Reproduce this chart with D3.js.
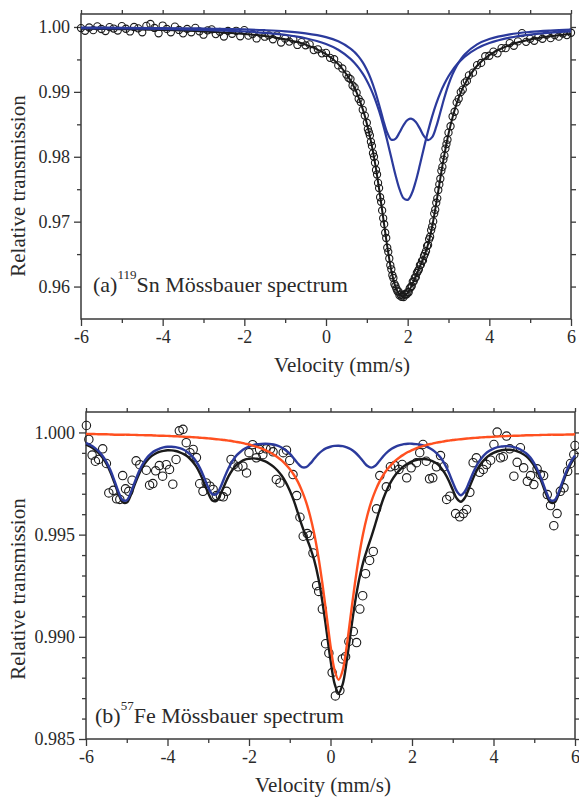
<!DOCTYPE html>
<html>
<head>
<meta charset="utf-8">
<script src="https://cdn.jsdelivr.net/npm/d3@7"></script>
<style>
body { margin: 0; background: #fff; }
svg text { font-family: "Liberation Serif", "Times New Roman", serif; }
</style>
</head>
<body>
<script>
// (a) 119Sn spectrum : measured points [velocity, transmission]
var snData = [[-6.0,.99983],[-5.9,.99942],[-5.8,.99992],[-5.7,.99951],[-5.6,1.00010],[-5.5,.99969],[-5.4,.99938],[-5.3,.99997],[-5.2,.99976],[-5.1,.99945],[-5.0,1.00014],[-4.9,.99973],[-4.8,.99931],[-4.7,1.00000],[-4.6,.99979],[-4.5,.99918],[-4.4,1.00017],[-4.3,1.00046],[-4.2,.99985],[-4.1,.99903],[-4.0,1.00022],[-3.9,.99970],[-3.8,.99918],[-3.7,1.00006],[-3.6,.99954],[-3.5,.99902],[-3.4,.99970],[-3.3,.99918],[-3.2,.99986],[-3.1,.99933],[-3.0,.99881],[-2.9,.99948],[-2.8,.99964],[-2.7,.99890],[-2.6,.99926],[-2.5,.99853],[-2.4,.99939],[-2.3,.99895],[-2.2,.99941],[-2.1,.99856],[-2.0,.99952],[-1.9,.99866],[-1.8,.99890],[-1.7,.99823],[-1.6,.99897],[-1.5,.99850],[-1.4,.99871],[-1.3,.99811],[-1.2,.99871],[-1.1,.99761],[-1.0,.99820],[-0.9,.99775],[-0.8,.99809],[-0.7,.99723],[-0.6,.99766],[-0.5,.99718],[-0.4,.99732],[-0.3,.99644],[-0.2,.99656],[-0.1,.99594],[0.0,.99601],[0.1,.99524],[0.2,.99503],[0.3,.99408],[0.4,.99360],[0.5,.99266],
[0.55,.99217],[0.60,.99197],[0.65,.99098],[0.70,.99069],[0.75,.98986],[0.80,.98893],[0.85,.98844],[0.90,.98724],[0.95,.98634],
[1.000,.98524],[1.025,.98426],[1.050,.98378],[1.075,.98329],[1.100,.98231],[1.125,.98167],[1.150,.98054],[1.175,.98000],[1.200,.97906],[1.225,.97796],[1.250,.97727],[1.275,.97597],[1.300,.97517],[1.325,.97376],[1.350,.97305],[1.375,.97173],[1.400,.97052],[1.425,.96961],[1.450,.96830],[1.475,.96749],[1.500,.96598],[1.525,.96535],[1.550,.96432],[1.575,.96329],[1.600,.96266],[1.625,.96174],[1.650,.96132],[1.675,.96040],[1.700,.96008],[1.725,.95967],[1.750,.95926],[1.775,.95925],[1.800,.95864],[1.825,.95878],[1.850,.95842],[1.875,.95865],[1.900,.95839],[1.925,.95883],[1.950,.95877],[1.975,.95880],[2.000,.95914],[2.025,.95913],[2.050,.95971],[2.075,.95990],[2.100,.96008],[2.125,.96074],[2.150,.96080],[2.175,.96136],[2.200,.96142],[2.225,.96209],[2.250,.96236],[2.275,.96263],[2.300,.96330],[2.325,.96338],[2.350,.96395],[2.375,.96403],[2.400,.96470],[2.425,.96508],[2.450,.96546],[2.475,.96623],[2.500,.96641],[2.525,.96730],[2.550,.96768],[2.575,.96867],[2.600,.96925],[2.625,.97004],[2.650,.97124],[2.675,.97183],[2.700,.97292],[2.725,.97359],[2.750,.97487],[2.775,.97574],[2.800,.97661],[2.825,.97783],[2.850,.97844],[2.875,.97956],[2.900,.98017],[2.925,.98126],[2.950,.98195],[2.975,.98263],[3.000,.98372],
[3.05,.98471],[3.10,.98620],[3.15,.98694],[3.20,.98838],[3.25,.98893],[3.30,.98997],[3.35,.99035],[3.40,.99143],[3.45,.99169],
[3.5,.99254],[3.6,.99296],[3.7,.99412],[3.8,.99446],[3.9,.99550],[4.0,.99557],[4.1,.99621],[4.2,.99594],[4.3,.99674],[4.4,.99674],[4.5,.99752],[4.6,.99711],[4.7,.99778],[4.8,.99905],[4.9,.99771],[5.0,.99817],[5.1,.99788],[5.2,.99848],[5.3,.99818],[5.4,.99878],[5.5,.99828],[5.6,.99875],[5.7,.99851],[5.8,.99898],[5.9,.99875],[6.0,.99911]];

// (a) fitted curves
var snFitV = [-6,-5,-4,-3,-2,-1.5,-1,-0.5,0,0.3,0.6,0.7,0.8,0.9,1.0,1.1,1.2,1.3,1.4,1.5,1.6,1.7,1.8,1.9,2.0,2.1,2.2,2.3,2.4,2.5,2.6,2.7,2.8,2.9,3.0,3.1,3.2,3.3,3.4,3.7,4.0,4.5,5.0,5.5,6.0];
var snFit = [.99973,.99964,.99952,.99931,.99892,.99860,.99810,.99728,.99581,.99428,.99177,.99059,.98913,.98734,.98514,.98241,.97906,.97507,.97062,.96618,.96246,.95998,.95874,.95849,.95904,.96018,.96162,.96310,.96460,.96651,.96925,.97282,.97671,.98037,.98352,.98610,.98818,.98987,.99123,.99402,.99567,.99722,.99807,.99858,.99891];
var snSingle = [.99982,.99977,.99969,.99955,.99930,.99910,.99878,.99827,.99738,.99649,.99509,.99446,.99370,.99280,.99173,.99043,.98889,.98705,.98491,.98247,.97983,.97723,.97501,.97361,.97336,.97433,.97627,.97877,.98143,.98396,.98623,.98819,.98985,.99124,.99240,.99336,.99417,.99485,.99543,.99670,.99752,.99835,.99883,.99913,.99932];
var snDoublet = [.99990,.99988,.99983,.99976,.99962,.99950,.99932,.99901,.99843,.99779,.99668,.99613,.99543,.99454,.99341,.99197,.99017,.98802,.98571,.98371,.98263,.98275,.98373,.98488,.98568,.98585,.98535,.98433,.98317,.98255,.98302,.98463,.98686,.98913,.99112,.99274,.99401,.99501,.99580,.99732,.99815,.99887,.99924,.99945,.99959];

// (b) 57Fe spectrum : measured points
var feData = [[-5.99,1.00034],[-5.93,.99966],[-5.85,.99889],[-5.77,.99859],[-5.69,.99868],[-5.59,.99920],[-5.50,.99848],[-5.44,.99704],[-5.33,.99717],[-5.25,.99675],[-5.17,.99672],[-5.10,.99789],[-5.03,.99724],[-4.95,.99712],[-4.87,.99766],[-4.77,.99861],[-4.68,.99842],[-4.52,.99815],[-4.44,.99742],[-4.36,.99750],[-4.29,.99812],[-4.20,.99838],[-4.12,.99786],[-4.03,.99842],[-3.95,.99819],[-3.87,.99747],[-3.79,.99868],[-3.71,1.00008],[-3.62,1.00015],[-3.54,.99950],[-3.45,.99901],[-3.37,.99917],[-3.29,.99877],[-3.21,.99749],[-3.13,.99712],[-3.05,.99753],[-2.96,.99737],[-2.88,.99721],[-2.80,.99691],[-2.70,.99688],[-2.63,.99685],[-2.55,.99712],[-2.44,.99868],[-2.37,.99843],[-2.27,.99832],[-2.15,.99835],[-2.06,.99802],[-2.00,.99901],[-1.91,.99940],[-1.82,.99876],[-1.74,.99917],[-1.66,.99891],[-1.58,.99920],[-1.47,.99920],[-1.41,.99905],[-1.33,.99770],[-1.24,.99753],[-1.16,.99901],[-1.08,.99913],[-1.00,.99863],[-0.92,.99794],[-0.83,.99691],[-0.75,.99585],[-0.67,.99492],[-0.57,.99505],[-0.51,.99495],[-0.43,.99410],[-0.34,.99250],[-0.29,.99222],[-0.20,.99136],[-0.12,.98966],[-0.04,.98920],[0.04,.98825],[0.12,.98711],[0.23,.98737],[0.29,.98892],[0.37,.98903],[0.45,.98977],[0.56,.99026],[0.64,.98972],[0.72,.99136],[0.79,.99201],[0.86,.99309],[0.96,.99374],[1.05,.99418],[1.13,.99626],[1.21,.99789],[1.37,.99734],[1.47,.99832],[1.58,.99838],[1.68,.99819],[1.76,.99843],[1.87,.99778],[1.98,.99827],[2.11,.99852],[2.19,.99901],[2.27,.99941],[2.35,.99859],[2.43,.99773],[2.51,.99778],[2.60,.99832],[2.70,.99887],[2.78,.99832],[2.85,.99672],[2.93,.99688],[3.07,.99603],[3.17,.99587],[3.26,.99603],[3.34,.99623],[3.42,.99707],[3.50,.99852],[3.58,.99876],[3.66,.99805],[3.75,.99819],[3.83,.99843],[3.93,.99864],[4.01,.99941],[4.09,1.00002],[4.17,.99876],[4.24,.99881],[4.32,.99982],[4.40,.99920],[4.50,.99786],[4.58,.99854],[4.66,.99925],[4.74,.99827],[4.83,.99761],[4.91,.99789],[4.99,.99745],[5.07,.99822],[5.15,.99794],[5.23,.99789],[5.32,.99696],[5.40,.99642],[5.48,.99544],[5.56,.99603],[5.64,.99712],[5.73,.99729],[5.82,.99810],[5.89,.99848],[5.97,.99892],[6.00,.99936]];

// (b) fitted curves, all on the same velocity grid
var feV = [-6.0,-5.9,-5.8,-5.7,-5.6,-5.5,-5.4,-5.3,-5.2,-5.1,-5.0,-4.9,-4.8,-4.7,-4.6,-4.5,-4.4,-4.3,-4.2,-4.1,-4.0,-3.9,-3.8,-3.7,-3.6,-3.5,-3.4,-3.3,-3.2,-3.1,-3.0,-2.9,-2.8,-2.7,-2.6,-2.5,-2.4,-2.3,-2.2,-2.1,-2.0,-1.9,-1.8,-1.7,-1.6,-1.5,-1.4,-1.3,-1.2,-1.1,-1.0,-0.9,-0.8,-0.7,-0.6,-0.5,-0.4,-0.3,-0.2,-0.1,0.0,0.1,0.2,0.3,0.4,0.5,0.6,0.7,0.8,0.9,1.0,1.1,1.2,1.3,1.4,1.5,1.6,1.7,1.8,1.9,2.0,2.1,2.2,2.3,2.4,2.5,2.6,2.7,2.8,2.9,3.0,3.1,3.2,3.3,3.4,3.5,3.6,3.7,3.8,3.9,4.0,4.1,4.2,4.3,4.4,4.5,4.6,4.7,4.8,4.9,5.0,5.1,5.2,5.3,5.4,5.5,5.6,5.7,5.8,5.9,6.0];
var feFit = [.99941,.99931,.99918,.99901,.99878,.99847,.99805,.99753,.99698,.99658,.99657,.99694,.99747,.99796,.99835,.99863,.99883,.99896,.99905,.99910,.99913,.99912,.99909,.99903,.99894,.99881,.99861,.99835,.99798,.99752,.99703,.99667,.99665,.99698,.99743,.99786,.99819,.99842,.99857,.99867,.99871,.99873,.99871,.99866,.99858,.99847,.99833,.99814,.99789,.99757,.99716,.99666,.99606,.99544,.99490,.99438,.99375,.99289,.99173,.99033,.98887,.98771,.98725,.98769,.98884,.99028,.99165,.99278,.99363,.99428,.99488,.99552,.99618,.99678,.99726,.99764,.99794,.99817,.99835,.99848,.99858,.99865,.99869,.99870,.99867,.99860,.99849,.99830,.99802,.99765,.99719,.99677,.99661,.99681,.99727,.99776,.99818,.99849,.99872,.99889,.99900,.99908,.99913,.99915,.99915,.99912,.99906,.99897,.99884,.99864,.99836,.99797,.99747,.99694,.99657,.99658,.99698,.99753,.99805,.99847,.99878];
var feSextet = [.99949,.99939,.99927,.99910,.99887,.99856,.99815,.99763,.99708,.99669,.99668,.99706,.99759,.99809,.99848,.99877,.99897,.99911,.99920,.99927,.99930,.99930,.99928,.99923,.99915,.99902,.99884,.99859,.99824,.99779,.99731,.99698,.99698,.99732,.99781,.99826,.99862,.99889,.99907,.99921,.99931,.99938,.99942,.99944,.99945,.99944,.99941,.99935,.99926,.99913,.99896,.99873,.99848,.99830,.99830,.99847,.99871,.99894,.99911,.99923,.99930,.99934,.99935,.99933,.99927,.99918,.99903,.99883,.99859,.99837,.99828,.99837,.99860,.99885,.99905,.99920,.99931,.99938,.99943,.99945,.99945,.99943,.99940,.99935,.99927,.99915,.99899,.99877,.99846,.99805,.99756,.99712,.99693,.99712,.99755,.99803,.99843,.99873,.99895,.99910,.99921,.99928,.99931,.99933,.99932,.99928,.99922,.99912,.99898,.99878,.99849,.99809,.99759,.99706,.99668,.99669,.99708,.99763,.99815,.99856,.99887];
var feSinglet = [.99992,.99992,.99992,.99991,.99991,.99991,.99990,.99989,.99989,.99989,.99989,.99988,.99988,.99987,.99987,.99986,.99986,.99985,.99984,.99984,.99983,.99982,.99981,.99980,.99979,.99978,.99977,.99976,.99974,.99973,.99971,.99969,.99967,.99965,.99963,.99960,.99957,.99953,.99950,.99945,.99941,.99935,.99929,.99922,.99913,.99904,.99892,.99879,.99863,.99844,.99821,.99793,.99758,.99714,.99660,.99591,.99504,.99395,.99262,.99111,.98957,.98837,.98790,.98837,.98957,.99111,.99262,.99395,.99504,.99591,.99660,.99714,.99758,.99793,.99821,.99844,.99863,.99879,.99892,.99904,.99913,.99922,.99929,.99935,.99941,.99945,.99950,.99953,.99957,.99960,.99963,.99965,.99967,.99969,.99971,.99973,.99974,.99976,.99977,.99978,.99979,.99980,.99981,.99982,.99983,.99984,.99984,.99985,.99986,.99986,.99987,.99987,.99988,.99988,.99989,.99989,.99989,.99989,.99990,.99990,.99991];

// ticks
var xTicks = [-6,-4,-2,0,2,4,6];
var xMinor = [-5,-3,-1,1,3,5];
var snYTicks = [0.96,0.97,0.98,0.99,1.00];
var snYMinor = [0.965,0.975,0.985,0.995];
var feYTicks = [0.985,0.990,0.995,1.000];
var feYMinor = [0.986,0.987,0.988,0.989,0.991,0.992,0.993,0.994,0.996,0.997,0.998,0.999];

var serif = "Liberation Serif, Times New Roman, serif";
var axisCol = "#3a3a3a";
var blue = "#2b3a9c", orange = "#ff5020", black = "#1a1a1a";

var svg = d3.select("body").append("svg")
    .attr("width", 579)
    .attr("height", 797);

function addAxis(axis, tx, ty) {
    var g = svg.append("g")
        .attr("transform", "translate(" + tx + "," + ty + ")")
        .call(axis)
        .attr("font-family", null);
    g.select(".domain").remove();
    g.selectAll(".tick line").attr("stroke", axisCol).attr("stroke-width", 1.3);
    g.selectAll(".tick text")
        .style("font-family", serif)
        .attr("font-size", 18)
        .attr("fill", "#2a2a2a");
    return g;
}

function panel(p) {
    var x = d3.scaleLinear().domain([-6, 6]).range([p.left, p.right]);
    var y = d3.scaleLinear().domain(p.yDom).range([p.bottom, p.top]);

    // frame
    svg.append("rect")
        .attr("x", p.left).attr("y", p.top)
        .attr("width", p.right - p.left).attr("height", p.bottom - p.top)
        .attr("fill", "none").attr("stroke", axisCol).attr("stroke-width", 1.5);

    addAxis(d3.axisBottom(x).tickValues(xTicks).tickSize(7).tickPadding(4).tickSizeOuter(0).tickFormat(function(d) { return d; }), 0, p.bottom);
    addAxis(d3.axisBottom(x).tickValues(xMinor).tickSize(4).tickSizeOuter(0).tickFormat(""), 0, p.bottom);
    addAxis(d3.axisTop(x).tickValues(xTicks.concat(xMinor)).tickSize(4).tickSizeOuter(0).tickFormat(""), 0, p.top);
    addAxis(d3.axisLeft(y).tickValues(p.yTicks).tickSize(7).tickPadding(4).tickSizeOuter(0).tickFormat(d3.format(p.yFmt)), p.left, 0);
    addAxis(d3.axisLeft(y).tickValues(p.yMinor).tickSize(4).tickSizeOuter(0).tickFormat(""), p.left, 0);
    addAxis(d3.axisRight(y).tickValues(p.yTicks.concat(p.yMinor)).tickSize(5).tickSizeOuter(0).tickFormat(""), p.right, 0);

    // measured points
    svg.append("g").selectAll("circle")
        .data(p.points)
        .enter().append("circle")
        .attr("cx", function(d) { return x(d[0]); })
        .attr("cy", function(d) { return y(d[1]); })
        .attr("r", p.r)
        .attr("fill", "none")
        .attr("stroke", black)
        .attr("stroke-width", 1.1);

    var line = d3.line()
        .x(function(d) { return x(d[0]); })
        .y(function(d) { return y(d[1]); })
        .curve(d3.curveCatmullRom);

    p.curves.forEach(function(c) {
        svg.append("path")
            .attr("d", line(d3.zip(c.v, c.t)))
            .attr("fill", "none")
            .attr("stroke", c.col)
            .attr("stroke-width", c.w);
    });

    // axis titles
    svg.append("text")
        .attr("transform", "translate(25," + p.yTitleY + ") rotate(-90)")
        .attr("text-anchor", "middle")
        .style("font-family", serif).attr("font-size", 21).attr("fill", "#2a2a2a")
        .text("Relative transmission");
    svg.append("text")
        .attr("x", p.xTitleX).attr("y", p.xTitleY)
        .attr("text-anchor", "middle")
        .style("font-family", serif).attr("font-size", 21).attr("fill", "#2a2a2a")
        .text("Velocity (mm/s)");

    // label inside the plot
    var t = svg.append("text")
        .attr("x", p.labX).attr("y", p.labY)
        .style("font-family", serif).attr("font-size", 22).attr("fill", "#2a2a2a");
    t.append("tspan").text(p.lab[0]);
    t.append("tspan").attr("font-size", 13).attr("dy", -13).text(p.lab[1]);
    t.append("tspan").attr("dy", 13).text(p.lab[2]);
}

panel({
    left: 81, right: 571, top: 14, bottom: 319,
    yDom: [0.955, 1.002], yTicks: snYTicks, yMinor: snYMinor, yFmt: ".2f",
    points: snData, r: 3.6,
    curves: [
        {v: snFitV, t: snFit, col: black, w: 2},
        {v: snFitV, t: snSingle, col: blue, w: 2.2},
        {v: snFitV, t: snDoublet, col: blue, w: 2.2}
    ],
    yTitleY: 186, xTitleX: 342, xTitleY: 372,
    labX: 93, labY: 292, lab: ["(a)", "119", "Sn Mössbauer spectrum"]
});

panel({
    left: 86, right: 575, top: 412, bottom: 739,
    yDom: [0.985, 1.001], yTicks: feYTicks, yMinor: feYMinor, yFmt: ".3f",
    points: feData, r: 4.2,
    curves: [
        {v: feV, t: feFit, col: black, w: 2.4},
        {v: feV, t: feSextet, col: blue, w: 2.4},
        {v: feV, t: feSinglet, col: orange, w: 2.4}
    ],
    yTitleY: 589, xTitleX: 323, xTitleY: 792,
    labX: 95, labY: 723, lab: ["(b)", "57", "Fe Mössbauer spectrum"]
});
</script>
</body>
</html>
